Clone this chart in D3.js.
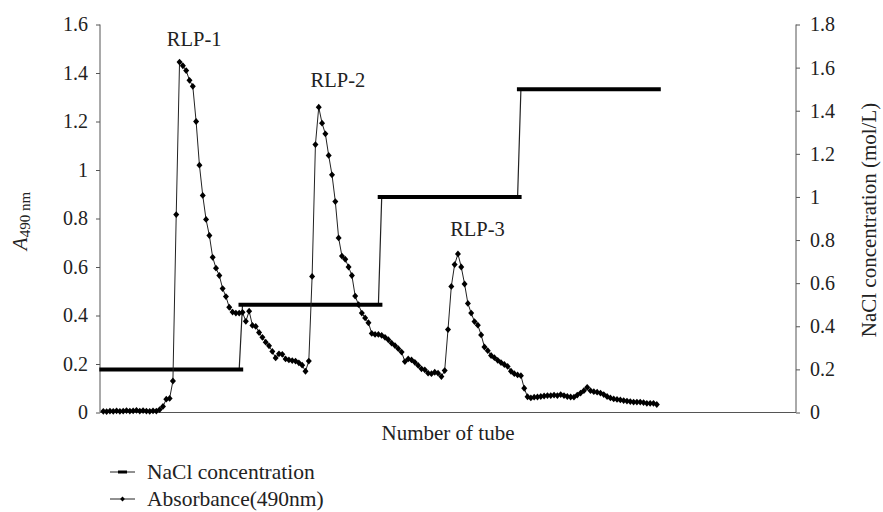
<!DOCTYPE html>
<html>
<head>
<meta charset="utf-8">
<script src="https://cdn.jsdelivr.net/npm/d3@7"></script>
</head>
<body style="margin:0">
<svg id="chart" width="883" height="512" font-family="Liberation Serif"></svg>
<script>
// tube numbers 1..168, absorbance at 490 nm
const absorbance = [
  0.005, 0.004, 0.006, 0.005, 0.007, 0.005, 0.006, 0.008, 0.006, 0.007,
  0.009, 0.006, 0.008, 0.006, 0.005, 0.007, 0.006, 0.012, 0.025, 0.055,
  0.058, 0.13, 0.816, 1.445, 1.43, 1.41, 1.37, 1.345, 1.2, 1.02,
  0.895, 0.796, 0.73, 0.64, 0.595, 0.565, 0.511, 0.478, 0.434, 0.414,
  0.41, 0.41, 0.413, 0.376, 0.418, 0.359, 0.355, 0.33, 0.31, 0.29,
  0.275, 0.252, 0.225, 0.242, 0.24, 0.221, 0.217, 0.214, 0.212, 0.205,
  0.195, 0.17, 0.212, 0.561, 1.105, 1.259, 1.193, 1.149, 1.06, 0.98,
  0.87, 0.72, 0.645, 0.632, 0.6, 0.565, 0.48, 0.445, 0.41, 0.39,
  0.37, 0.326, 0.322, 0.322, 0.318, 0.31, 0.3, 0.286, 0.276, 0.263,
  0.249, 0.21, 0.221, 0.217, 0.207, 0.194, 0.18, 0.176, 0.162, 0.16,
  0.166, 0.162, 0.148, 0.173, 0.342, 0.52, 0.61, 0.654, 0.6, 0.53,
  0.45, 0.41, 0.375, 0.36, 0.32, 0.27, 0.255, 0.235, 0.226, 0.215,
  0.206, 0.198, 0.19, 0.17, 0.16, 0.155, 0.152, 0.1, 0.065, 0.06,
  0.063, 0.064, 0.066, 0.068, 0.07, 0.07, 0.072, 0.07, 0.074, 0.07,
  0.066, 0.064, 0.063, 0.072, 0.08, 0.09, 0.104, 0.09, 0.086, 0.084,
  0.08, 0.074, 0.066, 0.06, 0.056, 0.054, 0.052, 0.049, 0.047, 0.045,
  0.043, 0.043, 0.043, 0.041, 0.038, 0.038, 0.038, 0.033
];

// NaCl step gradient: level, first tube, last tube
const naclLevels = [0.2, 0.5, 1.0, 1.5];
const naclFirstTube = [1, 43, 85, 127];
const naclLastTube = [42, 84, 126, 168];

const leftTicks = [0, 0.2, 0.4, 0.6, 0.8, 1, 1.2, 1.4, 1.6];
const rightTicks = [0, 0.2, 0.4, 0.6, 0.8, 1, 1.2, 1.4, 1.6, 1.8];

const peakNames = ['RLP-1', 'RLP-2', 'RLP-3'];
const peakTubes = [28.4, 71.8, 113.9];
const peakLabelLevels = [1.51, 1.344, 0.726];

const legendNames = ['NaCl concentration', 'Absorbance(490nm)'];

const FONT = 'Liberation Serif';
const INK = '#222';


class ElutionChart {

  constructor(svg) {
    this._svg = d3.select(svg);
    this._x = d3.scaleLinear().domain([0, 210]).range([100, 796]);
    this._yLeft = d3.scaleLinear().domain([0, 1.6]).range([412.5, 24.5]);
    this._yRight = d3.scaleLinear().domain([0, 1.8]).range([412.5, 24.5]);
  }

  diamond(rx, ry) {
    return `M0,${-ry}L${rx},0L0,${ry}L${-rx},0Z`;
  }

  label(parent, size) {
    return parent.append('text')
      .attr('fill', INK)
      .attr('font-family', FONT)
      .attr('font-size', size);
  }

  renderAxes() {
    const svg = this._svg;
    const axisColor = '#555';

    const left = svg.append('g')
      .attr('transform', 'translate(100,0)')
      .call(d3.axisLeft(this._yLeft).tickValues(leftTicks).tickSize(4).tickPadding(8)
        .tickFormat(d3.format('~g')));

    const right = svg.append('g')
      .attr('transform', 'translate(796,0)')
      .call(d3.axisRight(this._yRight).tickValues(rightTicks).tickSize(4).tickPadding(10)
        .tickFormat(d3.format('~g')));

    [left, right].forEach(g => {
      g.attr('font-family', FONT).attr('font-size', 20);
      g.select('.domain').remove();
      g.selectAll('.tick line').attr('stroke', axisColor);
      g.selectAll('.tick text').attr('fill', INK);
    });

    // axis lines
    svg.append('line')
      .attr('x1', 100).attr('x2', 100)
      .attr('y1', this._yLeft(1.6)).attr('y2', this._yLeft(0))
      .attr('stroke', axisColor);
    svg.append('line')
      .attr('x1', 796).attr('x2', 796)
      .attr('y1', this._yRight(1.8)).attr('y2', this._yRight(0))
      .attr('stroke', axisColor);
    svg.append('line')
      .attr('x1', 100).attr('x2', 796)
      .attr('y1', this._yLeft(0)).attr('y2', this._yLeft(0))
      .attr('stroke', axisColor);

    // titles
    this.label(svg, 21)
      .attr('x', 448).attr('y', 440)
      .attr('text-anchor', 'middle')
      .text('Number of tube');

    const yTitle = this.label(svg, 21)
      .attr('transform', 'translate(27,221) rotate(-90)')
      .attr('text-anchor', 'middle');
    yTitle.append('tspan').attr('font-style', 'italic').text('A');
    yTitle.append('tspan').attr('dy', 3).attr('font-size', 15).text('490 nm');

    this.label(svg, 21)
      .attr('transform', 'translate(876,220) rotate(-90)')
      .attr('text-anchor', 'middle')
      .text('NaCl concentration (mol/L)');
  }

  renderNacl() {
    const x = this._x, y = this._yRight;
    const points = [];
    naclLevels.forEach((v, i) => {
      points.push([naclFirstTube[i], v]);
      points.push([naclLastTube[i], v]);
    });

    this._svg.append('path')
      .attr('d', d3.line().x(d => x(d[0])).y(d => y(d[1]))(points))
      .attr('fill', 'none')
      .attr('stroke', INK)
      .attr('stroke-width', 1.2);

    this._svg.append('g')
      .selectAll('line')
      .data(naclLevels)
      .enter()
      .append('line')
      .attr('x1', (d, i) => x(naclFirstTube[i]) - 4)
      .attr('x2', (d, i) => x(naclLastTube[i]) + 4)
      .attr('y1', d => y(d))
      .attr('y2', d => y(d))
      .attr('stroke', '#000')
      .attr('stroke-width', 4);
  }

  renderAbsorbance() {
    const x = this._x, y = this._yLeft;
    const data = absorbance.map((v, i) => [i + 1, v]);

    this._svg.append('path')
      .attr('d', d3.line().x(d => x(d[0])).y(d => y(d[1]))(data))
      .attr('fill', 'none')
      .attr('stroke', INK)
      .attr('stroke-width', 1);

    this._svg.append('g')
      .selectAll('path')
      .data(data)
      .enter()
      .append('path')
      .attr('transform', d => `translate(${x(d[0])},${y(d[1])})`)
      .attr('d', this.diamond(3, 3.4))
      .attr('fill', '#000');
  }

  renderLabels() {
    peakNames.forEach((name, i) => {
      this.label(this._svg, 20.5)
        .attr('x', this._x(peakTubes[i]))
        .attr('y', this._yLeft(peakLabelLevels[i]))
        .attr('text-anchor', 'middle')
        .text(name);
    });
  }

  renderLegend() {
    const g = this._svg.append('g');
    const rows = [472, 499];

    rows.forEach((ry, i) => {
      g.append('line')
        .attr('x1', 110).attr('x2', 135)
        .attr('y1', ry).attr('y2', ry)
        .attr('stroke', INK);
      if (i === 0) {
        g.append('line')
          .attr('x1', 118).attr('x2', 127)
          .attr('y1', ry).attr('y2', ry)
          .attr('stroke', '#000')
          .attr('stroke-width', 3);
      } else {
        g.append('path')
          .attr('transform', `translate(122.5,${ry})`)
          .attr('d', this.diamond(2.4, 2.6))
          .attr('fill', '#000');
      }
      this.label(g, 21.5)
        .attr('x', 147).attr('y', ry + 7)
        .text(legendNames[i]);
    });
  }

  render() {
    this.renderAxes();
    this.renderNacl();
    this.renderAbsorbance();
    this.renderLabels();
    this.renderLegend();
    return this;
  }
}

new ElutionChart('#chart').render();
</script>
</body>
</html>
